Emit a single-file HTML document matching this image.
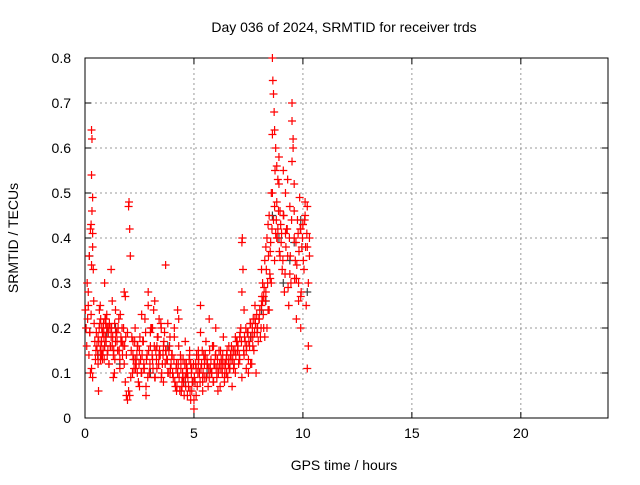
<!DOCTYPE html>
<html><head><meta charset="utf-8"><style>
body{margin:0;background:#fff;}
svg text{font-family:"Liberation Sans",sans-serif;font-size:14px;fill:#000;}
</style></head><body>
<svg id="c" width="640" height="480" xmlns="http://www.w3.org/2000/svg"></svg>
<script>
const xTicks=[0,5,10,15,20];
const yTicks=[0,0.1,0.2,0.3,0.4,0.5,0.6,0.7,0.8];
const yTickLabels=["0","0.1","0.2","0.3","0.4","0.5","0.6","0.7","0.8"];
const redHours=[0.02,0.05,0.08,0.1,0.12,0.15,0.18,0.2,0.22,0.25,0.28,0.3,0.32,0.35,0.38,0.4,0.42,0.45,0.48,0.5,0.3,0.32,0.35,0.28,0.25,0.3,0.35,0.22,0.15,0.3,0.35,
0.55,0.6,0.62,0.65,0.7,0.72,0.75,0.78,0.8,0.85,0.88,0.9,0.95,1.0,1.05,1.1,1.15,1.2,1.25,1.3,1.35,1.4,1.45,1.5,1.55,1.6,1.65,1.7,1.75,1.8,1.85,1.9,1.95,0.7,0.8,0.9,1.0,1.1,1.2,1.3,1.4,1.5,1.6,1.7,1.8,0.6,0.75,0.95,1.25,1.45,1.65,1.85,
2.0,2.02,2.05,2.08,2.0,2.05,2.1,2.15,2.2,2.25,2.3,2.35,2.4,2.45,2.5,2.55,2.6,2.65,2.7,2.75,2.8,2.85,2.9,2.95,3.0,3.05,3.1,3.15,3.2,3.25,3.3,3.35,3.4,3.45,3.5,3.55,3.6,3.65,3.7,3.75,3.8,3.85,3.9,3.95,2.2,2.4,2.6,2.8,3.0,3.2,3.4,3.6,3.8,2.3,2.5,2.7,2.9,3.1,3.3,3.5,3.7,3.9,1.9,1.95,
4.0,4.05,4.1,4.15,4.2,4.25,4.3,4.35,4.4,4.45,4.5,4.55,4.6,4.65,4.7,4.75,4.8,4.85,4.9,4.95,4.1,4.2,4.3,4.4,4.5,4.6,4.7,4.8,4.9,4.25,4.45,4.65,4.85,
5.0,5.05,5.1,5.15,5.2,5.25,5.3,5.35,5.4,5.45,5.5,5.55,5.6,5.65,5.7,5.75,5.8,5.85,5.9,5.95,6.0,6.05,6.1,6.15,6.2,6.25,6.3,6.35,6.4,6.45,6.5,6.55,6.6,6.65,6.7,6.75,6.8,6.85,6.9,6.95,5.1,5.3,5.5,5.7,5.9,6.1,6.3,6.5,6.7,6.9,5.2,5.4,5.6,5.8,6.0,6.2,6.4,6.6,6.8,5.0,5.2,5.4,
7.0,7.05,7.1,7.15,7.2,7.22,7.25,7.2,7.3,7.35,7.4,7.45,7.5,7.55,7.6,7.65,7.7,7.75,7.8,7.85,7.9,7.95,7.1,7.3,7.5,7.7,7.9,7.2,7.4,7.6,7.8,
8.0,8.05,8.1,8.15,8.2,8.25,8.3,8.35,8.4,8.45,8.5,8.55,8.6,8.62,8.65,8.68,8.7,8.72,8.75,8.8,8.85,8.9,8.95,8.1,8.2,8.3,8.4,8.5,8.6,8.7,8.8,8.9,8.15,8.35,8.55,8.75,8.95,8.25,8.45,8.65,8.85,8.6,8.7,8.8,
9.0,9.05,9.1,9.15,9.2,9.25,9.3,9.35,9.4,9.45,9.5,9.55,9.6,9.65,9.7,9.75,9.8,9.85,9.9,9.95,10.0,10.05,10.1,10.15,10.2,10.25,10.3,9.1,9.3,9.5,9.7,9.9,10.1,10.3,9.2,9.4,9.6,9.8,10.0,10.2,9.5,9.55,9.6,9.9,10.2,10.25,
0.52,0.58,0.63,0.68,0.73,0.77,0.83,0.87,0.92,0.97,1.02,1.07,1.12,1.17,1.22,1.27,1.32,1.37,1.42,1.47,1.52,1.57,1.62,1.67,1.72,1.77,1.82,1.87,0.66,0.71,0.76,0.86,0.96,1.06,1.16,1.36,
2.12,2.18,2.22,2.28,2.32,2.38,2.42,2.48,2.52,2.58,2.62,2.68,2.72,2.78,2.82,2.88,2.92,2.98,3.02,3.08,3.12,3.18,3.22,3.28,3.32,3.38,3.42,3.48,3.52,3.58,3.62,3.68,3.72,3.78,3.82,3.88,3.92,3.98,
4.02,4.08,4.12,4.18,4.22,4.28,4.32,4.38,4.42,4.48,4.52,4.58,4.62,4.68,4.72,4.78,4.82,4.88,4.92,4.98,
5.02,5.08,5.12,5.18,5.22,5.28,5.32,5.38,5.42,5.48,5.52,5.58,5.62,5.68,5.72,5.78,5.82,5.88,5.92,5.98,6.02,6.08,6.12,6.18,6.22,6.28,6.32,6.38,6.42,6.48,6.52,6.58,6.62,6.68,6.72,6.78,6.82,6.88,6.92,6.98,
7.02,7.08,7.12,7.18,7.28,7.32,7.38,7.42,7.48,7.52,7.58,7.62,7.68,7.72,7.78,7.82,7.88,7.92,7.98,
8.02,8.08,8.12,8.18,8.22,8.28,8.32,8.38,8.42,8.48,8.52,8.58,8.78,8.82,8.88,8.92,8.98,9.02,9.08,9.12,9.18,9.22,9.28,9.32,9.38,9.42,9.48,9.62,9.68,9.72,9.78,9.82,9.88,9.92,9.98,10.02,10.08,10.12,10.18];
const redValues=[0.24,0.2,0.16,0.3,0.22,0.25,0.14,0.36,0.19,0.42,0.43,0.64,0.62,0.49,0.33,0.26,0.21,0.17,0.13,0.15,0.54,0.46,0.41,0.23,0.1,0.11,0.09,0.19,0.28,0.34,0.38,
0.16,0.18,0.06,0.2,0.15,0.22,0.17,0.14,0.19,0.21,0.13,0.16,0.18,0.23,0.15,0.12,0.2,0.18,0.26,0.14,0.1,0.17,0.19,0.15,0.22,0.13,0.18,0.2,0.16,0.12,0.27,0.14,0.19,0.25,0.13,0.3,0.2,0.12,0.33,0.09,0.24,0.15,0.11,0.17,0.28,0.12,0.14,0.21,0.16,0.19,0.17,0.08,
0.47,0.48,0.42,0.36,0.06,0.05,0.09,0.18,0.14,0.11,0.2,0.12,0.16,0.08,0.15,0.13,0.1,0.17,0.12,0.22,0.07,0.14,0.28,0.1,0.16,0.2,0.13,0.24,0.09,0.15,0.11,0.18,0.22,0.14,0.2,0.12,0.16,0.19,0.34,0.13,0.1,0.15,0.18,0.12,0.17,0.1,0.23,0.05,0.19,0.26,0.14,0.08,0.21,0.13,0.07,0.11,0.25,0.2,0.16,0.09,0.15,0.1,0.05,0.04,
0.14,0.09,0.18,0.07,0.12,0.1,0.16,0.06,0.11,0.08,0.13,0.05,0.09,0.12,0.1,0.07,0.15,0.04,0.11,0.08,0.2,0.06,0.22,0.13,0.09,0.17,0.05,0.14,0.06,0.24,0.07,0.1,0.12,
0.02,0.08,0.11,0.07,0.15,0.1,0.25,0.12,0.06,0.14,0.09,0.17,0.13,0.07,0.22,0.11,0.1,0.16,0.08,0.12,0.14,0.09,0.11,0.15,0.07,0.13,0.1,0.18,0.08,0.12,0.14,0.09,0.16,0.11,0.13,0.07,0.15,0.12,0.1,0.17,0.05,0.19,0.13,0.09,0.16,0.06,0.12,0.1,0.14,0.18,0.14,0.08,0.12,0.1,0.2,0.11,0.09,0.13,0.15,0.04,0.12,0.09,
0.15,0.12,0.18,0.2,0.39,0.4,0.33,0.28,0.14,0.17,0.11,0.19,0.13,0.16,0.21,0.12,0.18,0.15,0.22,0.1,0.2,0.17,0.13,0.24,0.1,0.16,0.19,0.09,0.15,0.12,0.25,
0.22,0.18,0.25,0.3,0.2,0.35,0.28,0.4,0.24,0.45,0.37,0.5,0.8,0.75,0.72,0.68,0.64,0.55,0.6,0.48,0.42,0.52,0.46,0.33,0.27,0.38,0.43,0.31,0.5,0.35,0.4,0.58,0.26,0.2,0.3,0.41,0.36,0.18,0.24,0.44,0.53,0.63,0.47,0.56,
0.39,0.33,0.45,0.28,0.5,0.42,0.36,0.25,0.47,0.3,0.7,0.62,0.4,0.35,0.22,0.44,0.3,0.49,0.27,0.38,0.43,0.33,0.48,0.25,0.11,0.16,0.4,0.55,0.53,0.57,0.31,0.2,0.45,0.36,0.41,0.32,0.46,0.26,0.43,0.38,0.66,0.6,0.52,0.42,0.47,0.3,
0.19,0.14,0.17,0.21,0.16,0.2,0.15,0.18,0.22,0.17,0.14,0.19,0.21,0.16,0.2,0.18,0.15,0.13,0.19,0.17,0.2,0.15,0.23,0.17,0.14,0.2,0.16,0.18,0.24,0.13,0.17,0.19,0.22,0.2,0.16,0.21,
0.15,0.1,0.13,0.17,0.11,0.14,0.16,0.12,0.18,0.1,0.14,0.17,0.11,0.19,0.13,0.09,0.15,0.12,0.2,0.14,0.11,0.16,0.09,0.13,0.18,0.12,0.15,0.21,0.1,0.14,0.17,0.12,0.15,0.13,0.1,0.16,0.11,0.14,
0.1,0.13,0.08,0.11,0.07,0.12,0.09,0.14,0.06,0.1,0.08,0.12,0.07,0.11,0.09,0.13,0.06,0.1,0.08,0.12,
0.09,0.12,0.14,0.1,0.13,0.08,0.11,0.15,0.1,0.12,0.14,0.09,0.12,0.11,0.15,0.13,0.1,0.08,0.12,0.14,0.11,0.13,0.1,0.12,0.15,0.11,0.14,0.12,0.1,0.13,0.15,0.12,0.11,0.14,0.16,0.13,0.11,0.15,0.14,0.17,
0.16,0.14,0.19,0.17,0.15,0.18,0.2,0.16,0.19,0.17,0.21,0.18,0.2,0.22,0.19,0.21,0.23,0.2,0.22,
0.24,0.2,0.27,0.23,0.29,0.26,0.33,0.3,0.36,0.32,0.39,0.42,0.44,0.4,0.46,0.37,0.43,0.41,0.35,0.45,0.32,0.38,0.42,0.29,0.4,0.36,0.44,0.31,0.39,0.34,0.41,0.37,0.42,0.28,0.4,0.35,0.44,0.38,0.41];
const darkHours=[0.2,0.6,1.0,1.6,2.3,3.0,3.8,4.6,5.6,6.6,7.6,8.3,8.9,9.4,9.9,10.2,8.6,9.1,9.6,8.1,0.9,1.4];
const darkValues=[0.36,0.14,0.19,0.12,0.13,0.1,0.16,0.08,0.1,0.12,0.18,0.26,0.4,0.35,0.44,0.28,0.45,0.3,0.39,0.24,0.16,0.2];

const L=85,R=608,T=58,B=418;
const X=v=>L+(v/24)*(R-L);
const Y=v=>B-(v/0.8)*(B-T);
const svg=document.getElementById('c');
const NS="http://www.w3.org/2000/svg";
function mk(tag,attrs,parent){const e=document.createElementNS(NS,tag);for(const k in attrs)e.setAttribute(k,attrs[k]);(parent||svg).appendChild(e);return e;}
const grid=mk('g',{});


xTicks.forEach(t=>{if(t>0)mk('line',{x1:X(t),x2:X(t),y1:T,y2:B,stroke:'#999','stroke-dasharray':'2,3'},grid);});
yTicks.forEach(t=>{if(t>0&&t<0.8)mk('line',{x1:L,x2:R,y1:Y(t),y2:Y(t),stroke:'#999','stroke-dasharray':'2,3'},grid);});
const ax=mk('g',{});


xTicks.forEach(t=>{
 mk('line',{x1:X(t),x2:X(t),y1:B,y2:B-6,stroke:'#000'},ax);
 mk('line',{x1:X(t),x2:X(t),y1:T,y2:T+6,stroke:'#000'},ax);
 const tx=mk('text',{x:X(t),y:B+20,'text-anchor':'middle'},ax);tx.textContent=t;
 
 
});
yTicks.forEach((t,i)=>{
 mk('line',{x1:L,x2:L+6,y1:Y(t),y2:Y(t),stroke:'#000'},ax);
 mk('line',{x1:R,x2:R-6,y1:Y(t),y2:Y(t),stroke:'#000'},ax);
 const tx=mk('text',{x:L-14,y:Y(t)+5,'text-anchor':'end'},ax);tx.textContent=yTickLabels[i];
 
 
});
const pts=mk('g',{});


function plus(h,v,col){const x=X(h),y=Y(v);const p=mk('path',{d:`M${x-4} ${y}H${x+4}M${x} ${y-4}V${y+4}`,stroke:col,'stroke-width':1.2},pts);
 
 }
darkHours.forEach((h,i)=>plus(h,darkValues[i],'#404040'));
redHours.forEach((h,i)=>plus(h,redValues[i],'#ff0000'));
mk('rect',{x:L,y:T,width:R-L,height:B-T,fill:'none',stroke:'#000'},ax);
const ti=mk('text',{x:344,y:32,'text-anchor':'middle'});ti.textContent='Day 036 of 2024, SRMTID for receiver trds';


const xt=mk('text',{x:344,y:470,'text-anchor':'middle'});xt.textContent='GPS time / hours';


const yt=mk('text',{x:18,y:238,'text-anchor':'middle',transform:'rotate(-90 18 238)'});yt.textContent='SRMTID / TECUs';


</script>
</body></html>
